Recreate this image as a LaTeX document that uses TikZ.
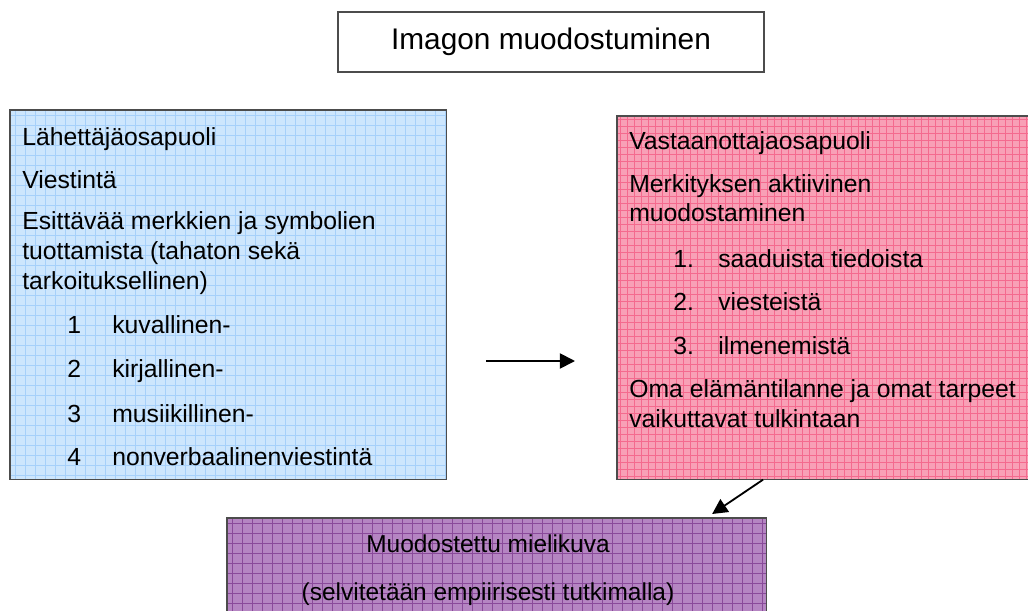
\documentclass[tikz,border=0pt]{standalone}
\usepackage{fontspec}
\setmainfont{Liberation Sans}
\usetikzlibrary{arrows.meta,positioning}
\definecolor{sinitausta}{HTML}{CDE6FD}
\definecolor{siniviiva}{HTML}{A6D0FA}
\definecolor{punatausta}{HTML}{F8A0B6}
\definecolor{punaviiva}{HTML}{F46A8E}
\definecolor{violettitausta}{HTML}{B585C2}
\definecolor{violettiviiva}{HTML}{8A4A9A}
\begin{document}
\begin{tikzpicture}[x=0.025cm,y=-0.025cm]
\tikzset{laatikko/.style={inner sep=0pt, anchor=north west},
  reuna/.style={draw=black!70, line width=0.8pt},
  ruudukko/.style={line width=0.5pt},
  rivi/.style={anchor=base west, inner sep=0pt, align=left, font=\fontsize{17.6}{21}\selectfont},
  keskirivi/.style={anchor=base, inner sep=0pt, font=\fontsize{17.4}{21}\selectfont},
  nuoli/.style={-{Triangle[length=0.38cm,width=0.38cm]}, line width=1.3pt}}
\useasboundingbox (0,0) rectangle (1028,611);
% otsikko
\node[reuna, minimum width=10.65cm, minimum height=1.5cm,
  font=\fontsize{21.2}{25}\selectfont] (otsikko) at (551,42) {Imagon muodostuminen};
% laatikot
\node[laatikko, fill=sinitausta, minimum width=10.9cm, minimum height=9.225cm] (lahettaja) at (10,110) {};
\begin{scope}
\clip (lahettaja.north west) rectangle (lahettaja.south east);
\foreach \gx in {15,25,...,445} \draw[ruudukko, siniviiva] (\gx,100) -- (\gx,490);
\foreach \gy in {115,125,...,475} \draw[ruudukko, siniviiva] (0,\gy) -- (460,\gy);
\end{scope}
\draw[reuna] (lahettaja.north west) rectangle (lahettaja.south east);
\node[laatikko, fill=punatausta, minimum width=10.4cm, minimum height=9.075cm] (vastaanottaja) at (617,116) {};
\begin{scope}
\clip (vastaanottaja.north west) rectangle (vastaanottaja.south east);
\foreach \gx in {620,627,...,1035} \draw[ruudukko, punaviiva] (\gx,100) -- (\gx,490);
\foreach \gy in {119,126,...,479} \draw[ruudukko, punaviiva] (600,\gy) -- (1040,\gy);
\end{scope}
\draw[reuna] (vastaanottaja.north west) rectangle (vastaanottaja.south east);
\node[laatikko, fill=violettitausta, minimum width=13.475cm, minimum height=2.8cm] (mielikuva) at (227,518) {};
\begin{scope}
\clip (mielikuva.north west) rectangle (mielikuva.south east);
\foreach \gx in {232,242,...,772} \draw[ruudukko, violettiviiva] (\gx,510) -- (\gx,640);
\foreach \gy in {523,533,...,633} \draw[ruudukko, violettiviiva] (220,\gy) -- (780,\gy);
\end{scope}
\draw[reuna] (mielikuva.north west) rectangle (mielikuva.south east);
% lahettajan tekstit
\node[rivi] (l1) at (22,145) {Lähettäjäosapuoli};
\node[rivi] (l2) at (22,188) {Viestintä};
\node[rivi] (l3) at (22,289) {Esittävää merkkien ja symbolien\\tuottamista (tahaton sekä\\tarkoituksellinen)};
\foreach \nro/\teksti/\yy in {1/kuvallinen-/333, 2/kirjallinen-/377, 3/musiikillinen-/422, 4/nonverbaalinenviestintä/465}
  \node[rivi] (lk\nro) at (67,\yy) {\makebox[1.125cm][l]{\nro}\teksti};
% vastaanottajan tekstit
\node[rivi] (v1) at (629,150) {Vastaanottajaosapuoli};
\node[rivi] (v2) at (629,222) {Merkityksen aktiivinen\\muodostaminen};
\foreach \nro/\teksti/\yy in {1/saaduista tiedoista/267, 2/viesteistä/310, 3/ilmenemistä/354}
  \node[rivi] (vk\nro) at (673,\yy) {\makebox[1.125cm][l]{\nro.}\teksti};
\node[rivi] (v3) at (629,427) {Oma elämäntilanne ja omat tarpeet\\vaikuttavat tulkintaan};
% mielikuvan tekstit
\node[keskirivi] (m1) at (488,552) {Muodostettu mielikuva};
\node[keskirivi] (m2) at (488,600) {(selvitetään empiirisesti tutkimalla)};
% nuolet
\coordinate (n1) at (486,361);
\coordinate (n2) at (575,361);
\draw[nuoli] (n1) -- (n2);
\draw[nuoli] ([xshift=3.65cm]vastaanottaja.south west) -- ([xshift=12.125cm,yshift=0.1cm]mielikuva.north west);
\end{tikzpicture}
\end{document}
